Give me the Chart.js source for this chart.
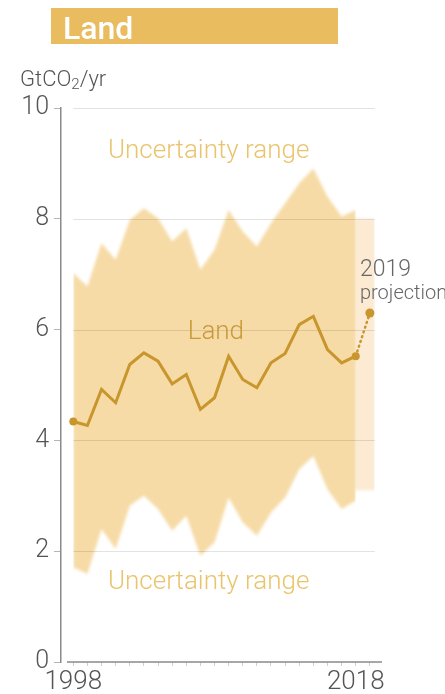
<!DOCTYPE html>
<html>
<head>
<meta charset="utf-8">
<script src="https://cdn.jsdelivr.net/npm/chart.js@4.4.1/dist/chart.umd.min.js"></script>
<style>
  html, body { margin: 0; padding: 0; background: #fff; }
  #wrap { position: relative; width: 445px; height: 694px; font-family: Roboto, "Noto Sans", sans-serif; }
  #title {
    position: absolute; left: 51px; top: 8px; width: 287px; height: 36px;
    background: #E9BC5F; color: #fff; font-size: 32px; line-height: 41px;
    padding-left: 12px; box-sizing: border-box; font-weight: 500; overflow: visible;
  }
  #unit { position: absolute; left: 20px; top: 67px; font-size: 22px; line-height: 24px; color: #555; font-weight: 300; }
  #unit sub { font-size: 15px; vertical-align: -3px; line-height: 0; }
  canvas { position: absolute; left: 0; top: 0; }
</style>
</head>
<body>
<div id="wrap">
  <canvas id="chart" width="445" height="694"></canvas>
  <div id="title">Land</div>
  <div id="unit">GtCO<sub>2</sub>/yr</div>
</div>
<script>
// Land-use change emissions, GtCO2 per year
const years = [1998, 1999, 2000, 2001, 2002, 2003, 2004, 2005, 2006, 2007, 2008,
               2009, 2010, 2011, 2012, 2013, 2014, 2015, 2016, 2017, 2018];
const landValues  = [4.34, 4.27, 4.92, 4.68, 5.37, 5.58, 5.43, 5.02, 5.19, 4.56, 4.77,
                     5.52, 5.10, 4.95, 5.40, 5.57, 6.09, 6.24, 5.64, 5.40, 5.52];
const upperValues = [7.02, 6.78, 7.56, 7.26, 7.98, 8.19, 8.01, 7.59, 7.83, 7.08, 7.44,
                     8.16, 7.77, 7.50, 7.92, 8.28, 8.64, 8.91, 8.40, 8.04, 8.16];
const lowerValues = [1.71, 1.59, 2.40, 2.04, 2.82, 3.00, 2.76, 2.37, 2.64, 1.92, 2.16,
                     2.97, 2.52, 2.28, 2.70, 2.97, 3.48, 3.72, 3.12, 2.76, 2.91];

// 2019 projection and its range
const projectionYear = 2019;
const projectionValue = 6.30;
const projectionUpper = 8.0;
const projectionLower = 3.1;
const projectionSpan = [2017.85, 2019.35];

const yTickValues = [0, 2, 4, 6, 8, 10];
const xTickValues = years.concat([projectionYear]);
const xTickLabels = { 1998: '1998', 2018: '2018' };

const LINE = '#C8962C';
const BAND = '#F6DBA6';
const BAND_LIGHT = '#FCEAD2';
const RANGE_TEXT = '#E9C46C';
const AXIS = '#8a8a8a';
const TEXT = '#555';
const FONT = 'Roboto, "Noto Sans", sans-serif';

const pts = vals => years.map((yr, i) => ({ x: yr, y: vals[i] }));
const last = years.length - 1;

// Soft edges for the uncertainty band, plus gridlines, axis line and labels
const decor = {
  id: 'decor',
  beforeDraw(chart) {
    chart.ctx.filter = 'blur(1.5px)';
  },
  beforeDatasetsDraw(chart) {
    const { ctx, scales: { x, y } } = chart;
    ctx.filter = 'none';
    ctx.save();
    ctx.strokeStyle = 'rgba(0,0,0,0.11)';
    ctx.lineWidth = 1;
    const x0 = x.getPixelForValue(years[0]);
    const x1 = x.getPixelForValue(projectionSpan[1]);
    yTickValues.filter(v => v > 0).forEach(v => {
      const py = Math.round(y.getPixelForValue(v)) + 0.5;
      ctx.beginPath(); ctx.moveTo(x0, py); ctx.lineTo(x1, py); ctx.stroke();
    });
    ctx.restore();
  },
  afterDraw(chart) {
    const { ctx, chartArea, scales: { x, y } } = chart;
    ctx.save();
    ctx.filter = 'none';
    // x axis line, starting just right of the y axis
    ctx.strokeStyle = AXIS;
    ctx.lineWidth = 1.5;
    ctx.beginPath();
    ctx.moveTo(x.getPixelForValue(1997.55), chartArea.bottom);
    ctx.lineTo(chartArea.right, chartArea.bottom);
    ctx.stroke();

    ctx.textBaseline = 'middle';
    ctx.textAlign = 'left';
    const label = (txt, xv, yv, size, color, weight) => {
      ctx.font = `${weight || 400} ${size}px ${FONT}`;
      ctx.fillStyle = color;
      ctx.fillText(txt, x.getPixelForValue(xv), y.getPixelForValue(yv));
    };
    label('Uncertainty range', 2000.45, 9.22, 26, RANGE_TEXT, 300);
    label('Uncertainty range', 2000.45, 1.44, 26, RANGE_TEXT, 300);
    label('Land', 2006.1, 5.95, 26, '#C99A3A', 300);
    label('2019', 2018.3, 7.08, 23, '#666', 300);
    label('projection', 2018.3, 6.65, 20, '#666', 300);
    ctx.restore();
  }
};

new Chart(document.getElementById('chart'), {
  type: 'line',
  data: {
    datasets: [
      { data: pts(lowerValues), borderWidth: 0, pointRadius: 0, fill: false },
      { data: pts(upperValues), borderWidth: 0, pointRadius: 0, fill: '-1', backgroundColor: BAND },
      { data: projectionSpan.map(v => ({ x: v, y: projectionLower })), borderWidth: 0, pointRadius: 0, fill: false },
      { data: projectionSpan.map(v => ({ x: v, y: projectionUpper })), borderWidth: 0, pointRadius: 0, fill: '-1', backgroundColor: BAND_LIGHT },
      {
        data: pts(landValues), borderColor: LINE, borderWidth: 3, tension: 0,
        borderJoinStyle: 'miter', fill: false,
        pointRadius: c => (c.dataIndex === 0 || c.dataIndex === last) ? 4 : 0,
        pointBackgroundColor: LINE, pointBorderWidth: 0
      },
      {
        data: [{ x: years[last], y: landValues[last] }, { x: projectionYear, y: projectionValue }],
        borderColor: LINE, borderWidth: 2.5, borderDash: [1, 4], borderCapStyle: 'round', fill: false,
        pointRadius: c => c.dataIndex === 1 ? 4.5 : 0,
        pointBackgroundColor: LINE, pointBorderWidth: 0
      }
    ]
  },
  options: {
    responsive: false,
    animation: false,
    events: [],
    layout: { padding: { top: 108, right: 63, bottom: 0, left: 0 } },
    plugins: {
      legend: { display: false },
      tooltip: { enabled: false },
      filler: { drawTime: 'beforeDatasetsDraw' }
    },
    scales: {
      x: {
        type: 'linear', min: 1997.13, max: 2019.86,
        afterBuildTicks: s => { s.ticks = xTickValues.map(v => ({ value: v })); },
        afterFit: s => { s.height = 32; },
        ticks: {
          z: 1, autoSkip: false, maxRotation: 0, padding: 1,
          color: TEXT, font: { family: FONT, size: 26, weight: 300 },
          callback: v => xTickLabels[v] || ''
        },
        grid: { z: 1, drawOnChartArea: false, drawTicks: true, tickLength: 4, color: '#cfcfcf', lineWidth: 1 },
        border: { display: false, z: 1 }
      },
      y: {
        type: 'linear', min: 0, max: 10,
        afterBuildTicks: s => { s.ticks = yTickValues.map(v => ({ value: v })); },
        afterFit: s => { s.width = 61; },
        ticks: { z: 1, padding: 5, color: TEXT, font: { family: FONT, size: 25, weight: 300 } },
        grid: { z: 1, drawOnChartArea: false, drawTicks: true, tickLength: 7, color: '#b5b5b5', lineWidth: 1 },
        border: { z: 1, display: true, color: AXIS, width: 1.5 }
      }
    }
  },
  plugins: [decor]
});
</script>
</body>
</html>
